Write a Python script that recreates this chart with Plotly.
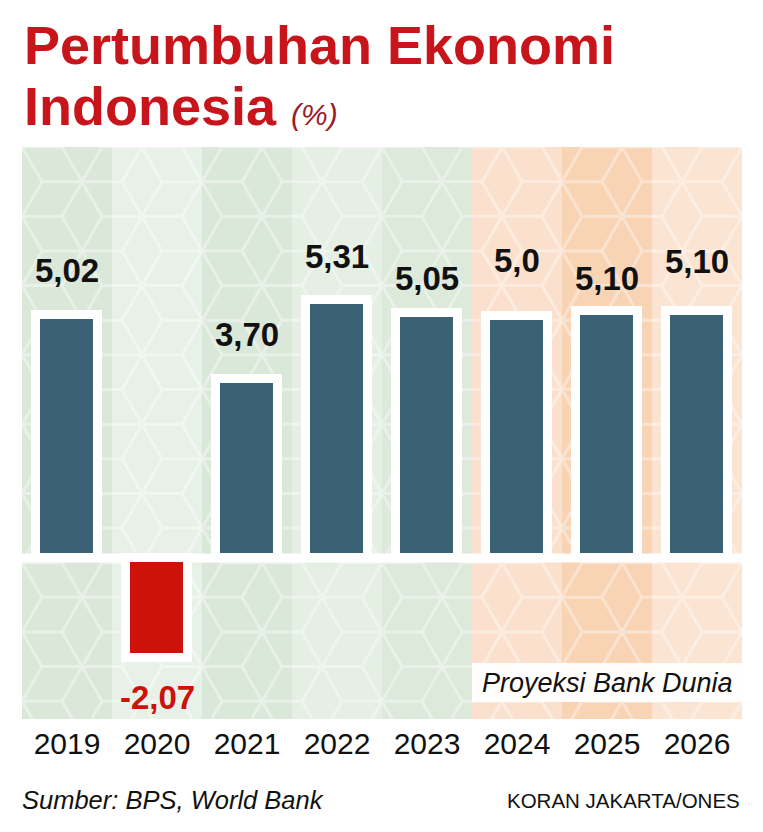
import math
import plotly.graph_objects as go

# ---------------- data ----------------
years = ["2019", "2020", "2021", "2022", "2023", "2024", "2025", "2026"]
growth = [5.02, -2.07, 3.70, 5.31, 5.05, 5.0, 5.10, 5.10]
value_labels = ["5,02", "-2,07", "3,70", "5,31", "5,05", "5,0", "5,10", "5,10"]

# ---------------- style ----------------
W, H = 763, 832
PLOT_L, PLOT_R, PLOT_T, PLOT_B = 22, 742, 147, 719
PX_PER_UNIT = 48.5
ZERO_PX = 558
Y_TOP = (ZERO_PX - PLOT_T) / PX_PER_UNIT
Y_BOT = -(PLOT_B - ZERO_PX) / PX_PER_UNIT
X_MIN, X_MAX = -0.5, len(years) - 0.5

BLUE = "#3b6174"
RED = "#cc1209"
TITLE_RED = "#c8141b"
FONT = "Liberation Sans, Arial, sans-serif"
col_bg = ["#dbe8d9", "#e8f1e7", "#dae8d9", "#e5efe4", "#dce9db",
          "#fbe1cd", "#f8d3b4", "#fce4d2"]
label_shift = [44.5, -38.6, 44.5, 43.5, 35, 55.5, 32.5, 49.5]
bar_colors = [RED if v < 0 else BLUE for v in growth]


def px_to_x(px):
    return X_MIN + (px - PLOT_L) / (PLOT_R - PLOT_L) * (X_MAX - X_MIN)


def px_to_y(py):
    return Y_TOP - (py - PLOT_T) / (PLOT_B - PLOT_T) * (Y_TOP - Y_BOT)


def px_to_paper_y(py):
    return (PLOT_B - py) / (PLOT_B - PLOT_T)


def px_to_paper_x(px):
    return (px - PLOT_L) / (PLOT_R - PLOT_L)


fig = go.Figure()

fig.add_trace(go.Bar(
    x=list(range(len(years))), y=growth, width=0.69,
    marker=dict(color=bar_colors, line=dict(color="white", width=9)),
    hoverinfo="skip", showlegend=False,
))

shapes = []
# column backgrounds
for i, c in enumerate(col_bg):
    shapes.append(dict(type="rect", xref="x", yref="y", x0=i - 0.5, x1=i + 0.5,
                       y0=Y_BOT, y1=Y_TOP, fillcolor=c, line=dict(width=0),
                       layer="below"))

# decorative tumbling-block pattern
R = 40.0
HH = math.sqrt(3) * R
parts = []
col = 0
cx = PLOT_L - R
while cx < PLOT_R + 2 * R:
    cy = PLOT_T - HH + (HH / 2 if col % 2 else 0)
    while cy < PLOT_B + HH:
        verts = [(cx + R * math.cos(math.radians(a)), cy + R * math.sin(math.radians(a)))
                 for a in range(0, 360, 60)]
        pts = verts + [verts[0]]
        parts.append("M{:.4f},{:.4f}".format(px_to_x(pts[0][0]), px_to_y(pts[0][1])))
        for p in pts[1:]:
            parts.append("L{:.4f},{:.4f}".format(px_to_x(p[0]), px_to_y(p[1])))
        for k in (0, 2, 4):
            parts.append("M{:.4f},{:.4f}L{:.4f},{:.4f}".format(
                px_to_x(cx), px_to_y(cy), px_to_x(verts[k][0]), px_to_y(verts[k][1])))
        cy += HH
    cx += 1.5 * R
    col += 1
shapes.append(dict(type="path", xref="x", yref="y", path="".join(parts),
                   line=dict(color="white", width=3), opacity=0.38, layer="below"))

# zero band
shapes.append(dict(type="line", xref="x", yref="y", x0=X_MIN, x1=X_MAX, y0=0, y1=0,
                   line=dict(color="white", width=9), layer="below"))

# projection label box
shapes.append(dict(type="rect", xref="x", yref="paper", x0=4.5, x1=X_MAX,
                   y0=px_to_paper_y(702), y1=px_to_paper_y(663),
                   fillcolor="rgba(255,255,255,0.95)", line=dict(width=0), layer="above"))

annotations = []
for i, (v, t) in enumerate(zip(growth, value_labels)):
    annotations.append(dict(
        x=i, y=v, xref="x", yref="y", text="<b>" + t + "</b>", showarrow=False,
        yanchor="middle", xanchor="center", yshift=label_shift[i],
        font=dict(family=FONT, size=33, color=RED if v < 0 else "#111111")))

annotations.append(dict(
    x=6.0, y=px_to_paper_y(683), xref="x", yref="paper",
    text="<i>Proyeksi Bank Dunia</i>", showarrow=False, xanchor="center", yanchor="middle",
    font=dict(family=FONT, size=27, color="#111111")))

annotations.append(dict(
    x=px_to_paper_x(24), y=px_to_paper_y(44.5), xref="paper", yref="paper",
    text="<b>Pertumbuhan Ekonomi</b>", showarrow=False, xanchor="left", yanchor="middle",
    borderpad=0, borderwidth=0,
    font=dict(family=FONT, size=54, color=TITLE_RED)))
annotations.append(dict(
    x=px_to_paper_x(24), y=px_to_paper_y(105.5), xref="paper", yref="paper",
    text="<b>Indonesia </b><span style='font-size:30px;font-style:italic;color:#9b1b2a'>(%)</span>",
    showarrow=False, xanchor="left", yanchor="middle", borderpad=0, borderwidth=0,
    font=dict(family=FONT, size=54, color=TITLE_RED)))

annotations.append(dict(
    x=px_to_paper_x(20), y=px_to_paper_y(800), xref="paper", yref="paper",
    text="<i>Sumber: BPS, World Bank</i>", showarrow=False, xanchor="left", yanchor="middle",
    font=dict(family=FONT, size=25.5, color="#111111")))
annotations.append(dict(
    x=px_to_paper_x(742), y=px_to_paper_y(800), xref="paper", yref="paper",
    text="KORAN JAKARTA/ONES", showarrow=False, xanchor="right", yanchor="middle",
    font=dict(family=FONT, size=20.5, color="#111111")))

fig.update_layout(
    width=W, height=H,
    margin=dict(l=PLOT_L, r=W - PLOT_R, t=PLOT_T, b=H - PLOT_B, pad=0),
    paper_bgcolor="white", plot_bgcolor="white",
    shapes=shapes, annotations=annotations, showlegend=False, bargap=0,
    xaxis=dict(range=[X_MIN, X_MAX], tickmode="array", tickvals=list(range(len(years))),
               ticktext=years, showgrid=False, zeroline=False, showline=False, ticks="",
               ticklabelstandoff=4,
               tickfont=dict(family=FONT, size=30, color="#111111"),
               fixedrange=True),
    yaxis=dict(range=[Y_BOT, Y_TOP], showgrid=False, zeroline=False, showline=False,
               showticklabels=False, ticks="", fixedrange=True),
)

fig.write_html("out.html")
